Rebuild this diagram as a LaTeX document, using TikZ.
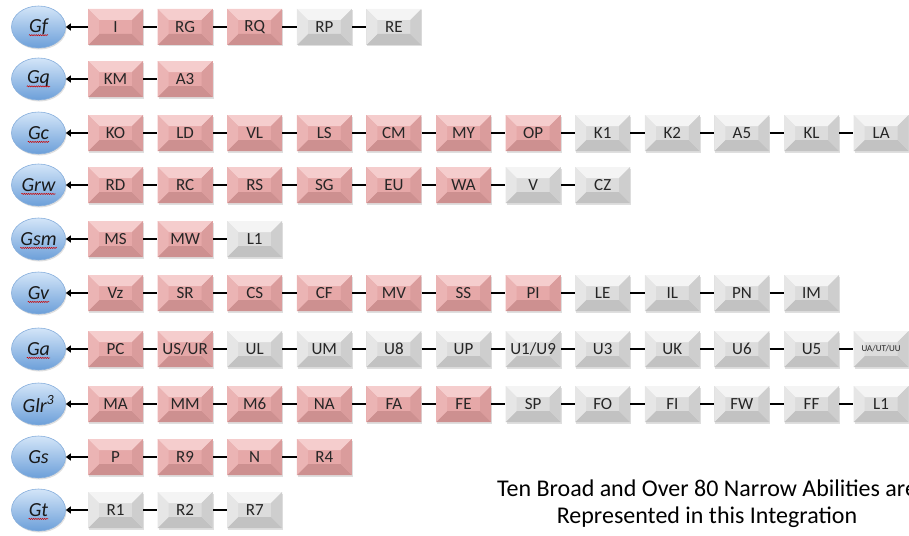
\documentclass[tikz,border=0pt]{standalone}
\usepackage{fontspec}
\setmainfont{Carlito}
\usetikzlibrary{shapes.geometric,shadows,decorations.pathmorphing,arrows.meta,calc}
\definecolor{basePK}{HTML}{E6A8A8}
\definecolor{topPK}{HTML}{F5CDCD}
\definecolor{botPK}{HTML}{CD9090}
\definecolor{leftPK}{HTML}{EBB4B4}
\definecolor{rightPK}{HTML}{DA9C9C}
\definecolor{baseGR}{HTML}{DCDCDC}
\definecolor{topGR}{HTML}{F4F4F4}
\definecolor{botGR}{HTML}{C2C2C2}
\definecolor{leftGR}{HTML}{E6E6E6}
\definecolor{rightGR}{HTML}{CECECE}
\definecolor{ellTop}{HTML}{D3E5F8}
\definecolor{ellBot}{HTML}{6C9FD9}
\definecolor{ellLine}{HTML}{86AEDC}
\newcommand\smalltxt{{\fontsize{9}{10}\selectfont UA/UT/UU}}
\tikzset{
  bevbox/.style={rectangle, minimum width=55pt, minimum height=36pt, inner sep=0pt,
    font=\fontsize{17}{19}\selectfont, text=black!85,
    drop shadow={shadow xshift=1pt, shadow yshift=-1.5pt, opacity=0.25},
    path picture={
      \coordinate (pSW) at (path picture bounding box.south west);
      \coordinate (pNE) at (path picture bounding box.north east);
      \coordinate (pNW) at (path picture bounding box.north west);
      \coordinate (pSE) at (path picture bounding box.south east);
      \fill[fill=top\bevcol] (pNW) -- (pNE) -- ($(pNE)+(-11pt,-11pt)$) -- ($(pNW)+(11pt,-11pt)$) -- cycle;
      \fill[fill=bot\bevcol] (pSW) -- (pSE) -- ($(pSE)+(-11pt,11pt)$) -- ($(pSW)+(11pt,11pt)$) -- cycle;
      \fill[fill=left\bevcol] (pSW) -- (pNW) -- ($(pNW)+(11pt,-11pt)$) -- ($(pSW)+(11pt,11pt)$) -- cycle;
      \fill[fill=right\bevcol] (pSE) -- (pNE) -- ($(pNE)+(-11pt,-11pt)$) -- ($(pSE)+(-11pt,11pt)$) -- cycle;
    }},
  pkbox/.style={bevbox, fill=basePK, /utils/exec={\def\bevcol{PK}}},
  grbox/.style={bevbox, fill=baseGR, /utils/exec={\def\bevcol{GR}}},
  ell/.style={ellipse, minimum width=54pt, minimum height=42pt, inner sep=0pt,
    top color=ellTop, bottom color=ellBot, draw=ellLine, line width=0.6pt,
    drop shadow={shadow xshift=1pt, shadow yshift=-1.5pt, opacity=0.25}},
  etxt/.style={inner sep=0pt, font=\fontsize{20}{22}\selectfont\itshape, text=black!90},
  conn/.style={line width=2.2pt, black},
  arr/.style={line width=2.2pt, black, -{Triangle[length=5pt,width=7pt]}},
  squig/.style={red!80!black, line width=0.5pt, decorate,
    decoration={snake, amplitude=0.6pt, segment length=2.2pt}},
  captxt/.style={align=center, font=\fontsize{24}{27}\selectfont, inner sep=0pt}
}
% #1 row id, #2 y, #3 label, #4 squiggle flag, #5 number of pink boxes, #6 list
\newcommand\brow[6]{%
  \node[ell] (g#1) at (38.5,#2) {};
  \node[etxt] (t#1) at (g#1) {#3};
  \ifnum#4=1
    \draw[squig] ([yshift=-2.5pt]t#1.base west) -- ([yshift=-2.5pt]t#1.base east);
  \fi
  \foreach \lab [count=\i, remember=\i as \prv (initially 0)] in {#6} {
    \ifnum\i>#5 \def\sty{grbox}\else\def\sty{pkbox}\fi
    \node[\sty] (b#1-\i) at ({115.5+69.6*(\i-1)},#2) {\lab};
    \ifnum\i>1 \draw[conn] (b#1-\prv.east) -- (b#1-\i.west); \fi
  }
  \draw[arr] (b#1-1.west) -- (g#1.east);
}
\begin{document}
\begin{tikzpicture}[x=1pt,y=-1pt]
\useasboundingbox (0,0) rectangle (909,535);
\clip (0,0) rectangle (909,535);
\brow{1}{27}{Gf}{1}{3}{I,RG,RQ,RP,RE}
\brow{2}{79}{Gq}{1}{2}{KM,A3}
\brow{3}{133}{Gc}{1}{7}{KO,LD,VL,LS,CM,MY,OP,K1,K2,A5,KL,LA}
\brow{4}{185}{Grw}{1}{6}{RD,RC,RS,SG,EU,WA,V,CZ}
\brow{5}{239}{Gsm}{1}{2}{MS,MW,L1}
\brow{6}{293}{Gv}{1}{7}{Vz,SR,CS,CF,MV,SS,PI,LE,IL,PN,IM}
\brow{7}{349}{Ga}{1}{2}{PC,US/UR,UL,UM,U8,UP,U1/U9,U3,UK,U6,U5,\smalltxt}
\brow{8}{404}{Glr\textsuperscript{3}}{0}{6}{MA,MM,M6,NA,FA,FE,SP,FO,FI,FW,FF,L1}
\brow{9}{457}{Gs}{0}{4}{P,R9,N,R4}
\brow{10}{510}{Gt}{1}{0}{R1,R2,R7}
\node[captxt, anchor=north] (cap) at (707,480) {Ten Broad and Over 80 Narrow Abilities are\\Represented in this Integration};
\end{tikzpicture}
\end{document}
